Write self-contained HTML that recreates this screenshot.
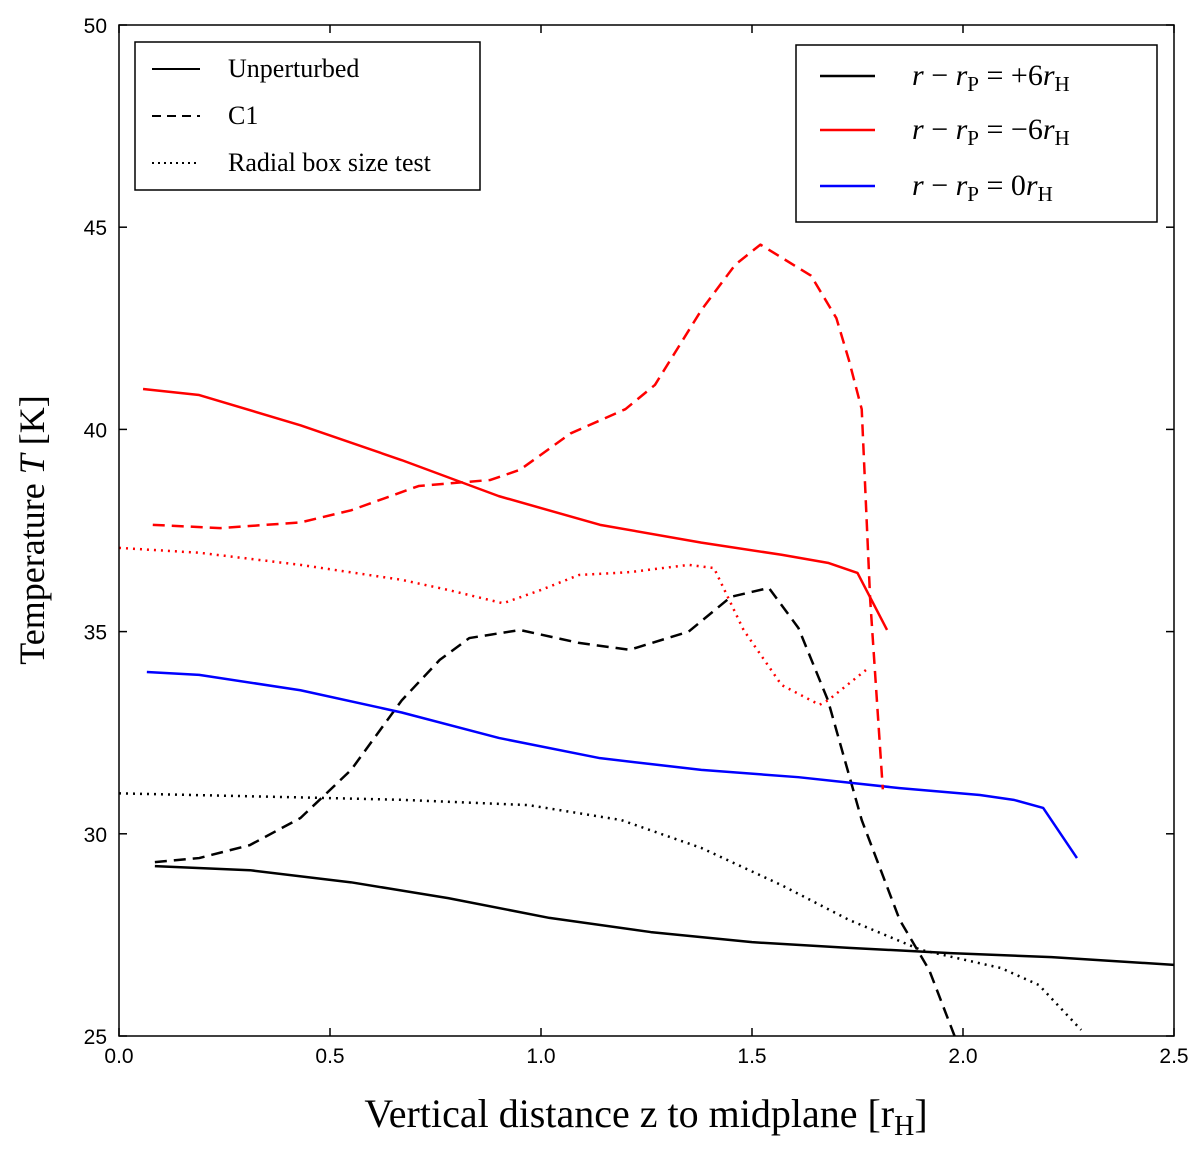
<!DOCTYPE html>
<html><head><meta charset="utf-8"><style>
body{margin:0;background:#fff}
svg text{font-family:"Liberation Sans",sans-serif}
.serif{font-family:"Liberation Serif",serif}
</style></head><body>
<svg id="chart" width="1200" height="1149" xmlns="http://www.w3.org/2000/svg">
<defs><clipPath id="clip"><rect x="119" y="25" width="1055" height="1011"/></clipPath></defs>
<g id="series" clip-path="url(#clip)"></g>
<rect x="119" y="25" width="1055" height="1011" fill="none" stroke="#000" stroke-width="1.5"/>
<g id="ticks"></g>
<text class="serif" x="646" y="1127" font-size="40" text-anchor="middle">Vertical distance z to midplane [r<tspan font-size="28" dy="8">H</tspan><tspan dy="-8">]</tspan></text>
<text class="serif" transform="translate(44,530) rotate(-90)" font-size="36" text-anchor="middle">Temperature  <tspan font-style="italic">T</tspan> [K]</text>
<g>
<rect x="135" y="42" width="345" height="148" fill="#fff" stroke="#000" stroke-width="1.5"/>
<line x1="152" y1="69" x2="200" y2="69" stroke="#000" stroke-width="2"/>
<text class="serif" x="228" y="77" font-size="26">Unperturbed</text>
<line x1="152" y1="116" x2="200" y2="116" stroke="#000" stroke-width="2" stroke-dasharray="9,6"/>
<text class="serif" x="228" y="124" font-size="26">C1</text>
<line x1="152" y1="163" x2="200" y2="163" stroke="#000" stroke-width="2" stroke-dasharray="2,4"/>
<text class="serif" x="228" y="171" font-size="26">Radial box size test</text>
</g>
<g>
<rect x="796" y="45" width="361" height="177" fill="#fff" stroke="#000" stroke-width="1.5"/>
<line x1="820" y1="76" x2="875" y2="76" stroke="#000" stroke-width="2.5"/>
<text class="serif" x="912" y="85" font-size="30"><tspan font-style="italic">r</tspan> − <tspan font-style="italic">r</tspan><tspan font-size="21" dy="6">P</tspan><tspan dy="-6"> = +6</tspan><tspan font-style="italic">r</tspan><tspan font-size="21" dy="6">H</tspan></text>
<line x1="820" y1="130" x2="875" y2="130" stroke="#f00" stroke-width="2.5"/>
<text class="serif" x="912" y="139" font-size="30"><tspan font-style="italic">r</tspan> − <tspan font-style="italic">r</tspan><tspan font-size="21" dy="6">P</tspan><tspan dy="-6"> = −6</tspan><tspan font-style="italic">r</tspan><tspan font-size="21" dy="6">H</tspan></text>
<line x1="820" y1="186" x2="875" y2="186" stroke="#00f" stroke-width="2.5"/>
<text class="serif" x="912" y="195" font-size="30"><tspan font-style="italic">r</tspan> − <tspan font-style="italic">r</tspan><tspan font-size="21" dy="6">P</tspan><tspan dy="-6"> = 0</tspan><tspan font-style="italic">r</tspan><tspan font-size="21" dy="6">H</tspan></text>
</g>
</svg>
<script>
const xTicks=[0,0.5,1.0,1.5,2.0,2.5];
const xTickLabels=["0.0","0.5","1.0","1.5","2.0","2.5"];
const yTicks=[25,30,35,40,45,50];
const redSolidZ=[0.057,0.19,0.43,0.67,0.90,1.14,1.38,1.57,1.68,1.75,1.82];
const redSolidT=[41.0,40.85,40.1,39.24,38.35,37.64,37.2,36.9,36.7,36.45,35.04];
const redDashZ=[0.08,0.24,0.43,0.55,0.71,0.88,0.95,1.07,1.20,1.27,1.38,1.46,1.52,1.64,1.70,1.73,1.76,1.78,1.81];
const redDashT=[37.64,37.56,37.7,38.0,38.6,38.75,39.0,39.9,40.5,41.1,42.95,44.07,44.57,43.8,42.75,41.7,40.5,35.8,31.1];
const redDotZ=[0,0.19,0.43,0.67,0.78,0.91,1.0,1.09,1.21,1.35,1.41,1.48,1.57,1.66,1.68,1.77];
const redDotT=[37.07,36.95,36.65,36.28,36.03,35.7,36.03,36.4,36.47,36.65,36.57,35.04,33.68,33.19,33.3,34.05];
const blueZ=[0.066,0.19,0.43,0.67,0.90,1.14,1.38,1.61,1.85,2.04,2.12,2.19,2.27];
const blueT=[34.0,33.93,33.55,33.0,32.37,31.87,31.58,31.4,31.13,30.96,30.84,30.64,29.4];
const blackSolidZ=[0.085,0.31,0.55,0.78,1.02,1.26,1.50,1.73,1.97,2.21,2.5];
const blackSolidT=[29.2,29.1,28.8,28.41,27.92,27.57,27.32,27.18,27.05,26.95,26.76];
const blackDashZ=[0.085,0.19,0.31,0.43,0.55,0.67,0.76,0.83,0.95,1.09,1.21,1.35,1.45,1.54,1.61,1.68,1.76,1.85,1.92,1.98];
const blackDashT=[29.3,29.4,29.72,30.39,31.58,33.3,34.3,34.84,35.04,34.72,34.55,35.0,35.86,36.08,35.09,33.3,30.34,27.87,26.63,25.0];
const blackDotZ=[0,0.43,0.67,0.97,1.19,1.38,1.57,1.73,1.90,2.09,2.18,2.28];
const blackDotT=[31.0,30.9,30.84,30.71,30.34,29.65,28.73,27.87,27.13,26.68,26.26,25.15];
const X=v=>119+v*(1055/2.5), Y=v=>1036-(v-25)*(1011/25);
const NS="http://www.w3.org/2000/svg";
const g=document.getElementById('series'), tg=document.getElementById('ticks');
function mk(t,a,p){const e=document.createElementNS(NS,t);for(const k in a)e.setAttribute(k,a[k]);p.appendChild(e);return e;}
function line(zs,ts,color,dash,name){
  const e=mk('polyline',{points:zs.map((z,i)=>X(z)+','+Y(ts[i])).join(' '),fill:'none',stroke:color,'stroke-width':2.5,'stroke-dasharray':dash,'stroke-linejoin':'round'},g);
  
  
}
line(blackDotZ,blackDotT,'#000','2,5','black-dotted-line');
line(blackSolidZ,blackSolidT,'#000','none','black-solid-line');
line(blackDashZ,blackDashT,'#000','12,7','black-dashed-line');
line(blueZ,blueT,'#00f','none','blue-solid-line');
line(redDotZ,redDotT,'#f00','2,5','red-dotted-line');
line(redSolidZ,redSolidT,'#f00','none','red-solid-line');
line(redDashZ,redDashT,'#f00','12,7','red-dashed-line');
xTicks.forEach((v,i)=>{
  mk('line',{x1:X(v),x2:X(v),y1:1036,y2:1028,stroke:'#000','stroke-width':1.5},tg);
  mk('line',{x1:X(v),x2:X(v),y1:25,y2:33,stroke:'#000','stroke-width':1.5},tg);
  const t=mk('text',{x:X(v),y:1063,'font-size':21,'text-anchor':'middle'},tg);t.textContent=xTickLabels[i];
  
  
});
yTicks.forEach(v=>{
  mk('line',{x1:119,x2:127,y1:Y(v),y2:Y(v),stroke:'#000','stroke-width':1.5},tg);
  mk('line',{x1:1174,x2:1166,y1:Y(v),y2:Y(v),stroke:'#000','stroke-width':1.5},tg);
  const t=mk('text',{x:107,y:Y(v)+8,'font-size':21,'text-anchor':'end'},tg);t.textContent=v;
  
  
});
</script>
</body></html>
